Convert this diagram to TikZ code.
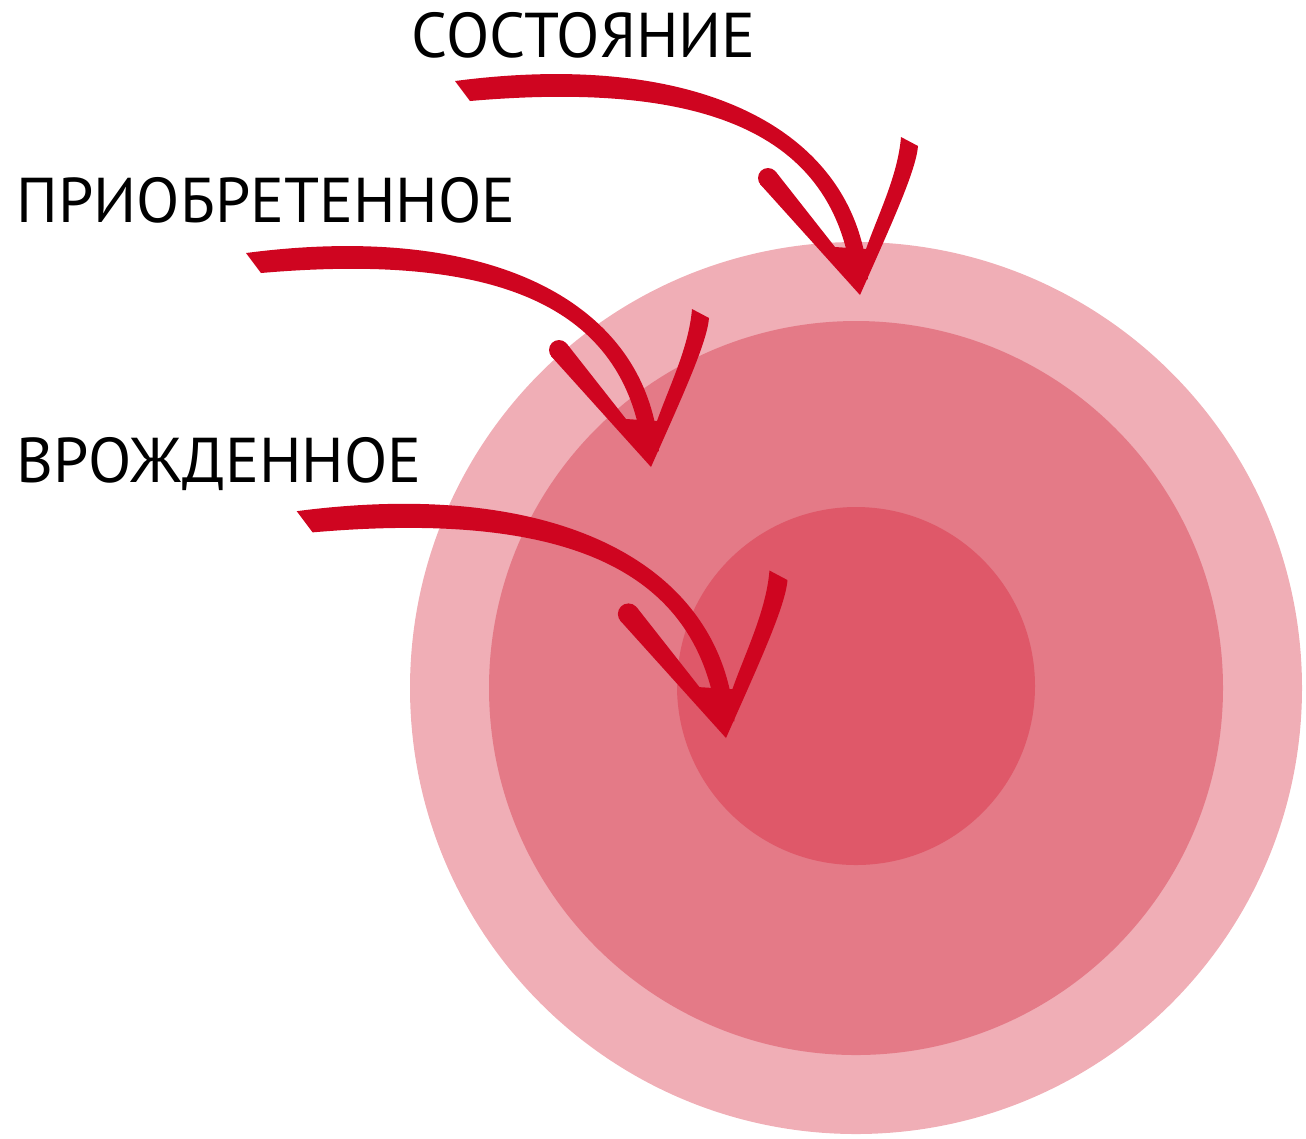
\documentclass[tikz,border=0pt]{standalone}
\usepackage{fontspec}
\setmainfont{PT Sans}
\usetikzlibrary{positioning}
\definecolor{outerC}{HTML}{F0AEB6}
\definecolor{midC}{HTML}{E47A87}
\definecolor{coreC}{HTML}{DF5869}
\definecolor{arrowC}{HTML}{CF0520}

\tikzset{
  label text/.style={anchor=base west,inner sep=0pt,font=\fontsize{18}{21}\selectfont},
  brush arrow/.pic={
    % tapered shaft
    \fill[arrowC] (-405,-214) .. controls (-161.7,-245.9) and (-4,-166.1) .. (8,-15.8)
      -- (-8,-14.2) .. controls (-25.9,-163.9) and (-158.3,-214.1) .. (-390,-194) -- cycle;
    % open head
    \fill[arrowC] (-84.15,-123.2) -- (-25,-48) -- (6,-46)
      .. controls (18,-80) and (38,-120) .. (41,-158) -- (58,-149)
      .. controls (56,-124) and (31,-70) .. (0,0) -- (-99.85,-110.8) -- cycle;
    \fill[arrowC] (-92,-117) circle[radius=10];
  }
}

\begin{document}
\begin{tikzpicture}[x=0.01cm,y=-0.01cm]
  \useasboundingbox (0,0) rectangle (1306,1138);

  % rings
  \fill[outerC] (856,688) circle[radius=446];
  \fill[midC] (856,688) circle[radius=367];
  \fill[coreC] (856,686) circle[radius=179];

  % labels
  \node[label text] (state) at (411,57) {СОСТОЯНИЕ};
  \node[label text] (acquired) at (16,222) {ПРИОБРЕТЕННОЕ};
  \node[label text] (innate) at (16,482) {ВРОЖДЕННОЕ};

  % arrows
  \coordinate (tipState) at (860,295);
  \coordinate (tipAcquired) at (651,467);
  \coordinate (tipInnate) at (726,738);
  \pic at (tipState) {brush arrow};
  \pic at (tipAcquired) {brush arrow};
  \pic[scale=1.06] at (tipInnate) {brush arrow};
\end{tikzpicture}
\end{document}
